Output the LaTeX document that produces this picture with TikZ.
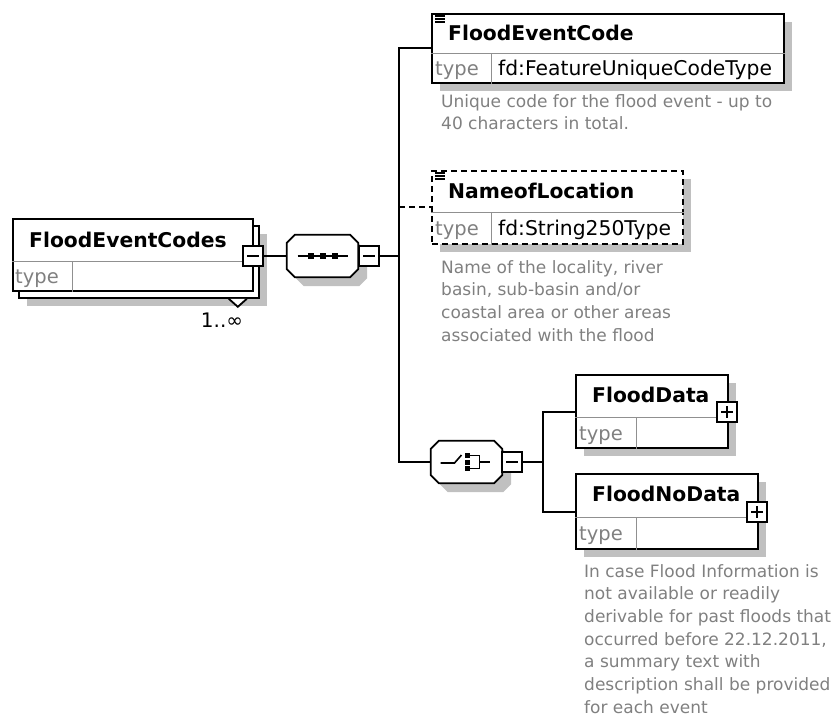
\documentclass[tikz,border=0pt]{standalone}
\usepackage{fontspec}
\setmainfont{DejaVu Sans}
\usetikzlibrary{calc,shadows}
\definecolor{shad}{HTML}{C0C0C0}
\definecolor{txtgray}{HTML}{808080}
\definecolor{sepgray}{HTML}{909090}
% octagon outline round a node #1, moved by (#2,#2)
\newcommand\octagonpath[2]{($(#1.north west)+(8+#2,#2)$) -- ($(#1.north east)+(-8+#2,#2)$) -- ($(#1.north east)+(#2,8+#2)$) -- ($(#1.south east)+(#2,-8+#2)$) -- ($(#1.south east)+(-8+#2,#2)$) -- ($(#1.south west)+(8+#2,#2)$) -- ($(#1.south west)+(#2,-8+#2)$) -- ($(#1.north west)+(#2,8+#2)$) -- cycle}
\tikzset{
  box/.style={draw=black, line width=1.8pt, fill=white, rectangle, inner sep=0pt, anchor=north west},
  elem/.style={box, general shadow={fill=shad, shadow xshift=8pt, shadow yshift=-8pt}},
  optdash/.style={dash pattern=on 6pt off 4pt},
  sepline/.style={draw=sepgray, line width=1pt},
  titletxt/.style={font=\fontsize{20.3}{24}\selectfont\bfseries, anchor=base west, inner sep=0pt},
  typelbl/.style={font=\fontsize{19.5}{22}\selectfont, text=txtgray, anchor=base west, inner sep=0pt},
  typeval/.style={font=\fontsize{20.3}{22}\selectfont, anchor=base west, inner sep=0pt},
  desctxt/.style={font=\fontsize{17}{22.7}\selectfont, text=txtgray, align=left, anchor=north west, inner sep=0pt},
  pmbox/.style={draw=black, line width=1.6pt, fill=white, rectangle, minimum size=20pt, inner sep=0pt},
  minusbox/.style={pmbox, path picture={\draw[line width=1.6pt] ([xshift=4pt]path picture bounding box.west) -- ([xshift=-4pt]path picture bounding box.east);}},
  plusbox/.style={pmbox, path picture={\draw[line width=1.6pt] ([xshift=4pt]path picture bounding box.west) -- ([xshift=-4pt]path picture bounding box.east); \draw[line width=1.6pt] ([yshift=-4pt]path picture bounding box.north) -- ([yshift=4pt]path picture bounding box.south);}},
  octframe/.style={rectangle, inner sep=0pt, minimum height=42pt},
  octline/.style={draw=black, line width=1.8pt, fill=white},
  conn/.style={draw=black, line width=1.8pt},
  icon/.style={draw=black, line width=1.1pt},
  sym/.style={draw=black, line width=1.6pt},
}
\begin{document}
\begin{tikzpicture}[x=1pt,y=-1pt]
\useasboundingbox (0,0) rectangle (832,720);

% ---------- FloodEventCodes (repeated element) ----------
\node[elem, minimum width=240pt, minimum height=72pt] (fecsback) at (18,225) {};
\draw[box, fill=white] ($(fecsback.south east)+(-31,0)$) -- ($(fecsback.south east)+(-22,8)$) -- ($(fecsback.south east)+(-13,0)$);
\node[box, minimum width=240pt, minimum height=72pt] (fecs) at (12,218) {};
\draw[sepline] ($(fecs.north west)+(0,43)$) -- ($(fecs.north east)+(0,43)$);
\draw[sepline] ($(fecs.north west)+(60,43)$) -- ($(fecs.south west)+(60,0)$);
\node[titletxt] (fecsT) at ($(fecs.north west)+(17,29)$) {FloodEventCodes};
\node[typelbl] (fecsL) at ($(fecs.north west)+(3,65)$) {type};
\node[minusbox] (fecsM) at (253,256) {};
\node[font=\fontsize{20}{22}\selectfont, inner sep=0pt] (card) at (222,320) {1..∞};

% ---------- sequence compositor ----------
\node[octframe, minimum width=71pt] (seq) at (322.5,256) {};
\fill[shad] \octagonpath{seq}{9};
\path[octline] \octagonpath{seq}{0};
\draw[sym] ($(seq.center)+(-25,0)$) -- ($(seq.center)+(25,0)$);
\foreach \dx in {-12,0,12} \fill ($(seq.center)+(\dx-3,-3)$) rectangle ++(6,6);
\node[minusbox] (seqM) at (369,256) {};

% ---------- FloodEventCode ----------
\node[elem, minimum width=352pt, minimum height=69pt] (fec) at (431,13) {};
\draw[sepline] ($(fec.north west)+(0,40)$) -- ($(fec.north east)+(0,40)$);
\draw[sepline] ($(fec.north west)+(60,40)$) -- ($(fec.south west)+(60,0)$);
\foreach \dy in {3,6,9} \draw[icon] ($(fec.north west)+(4,\dy)$) -- ++(10,0);
\node[titletxt] (fecT) at ($(fec.north west)+(17,27)$) {FloodEventCode};
\node[typelbl] (fecL) at ($(fec.north west)+(4,62)$) {type};
\node[typeval] (fecV) at ($(fec.north west)+(67,62)$) {fd:FeatureUniqueCodeType};
\node[desctxt] (fecD) at (441,94) {Unique code for the flood event - up to\\40 characters in total.};

% ---------- NameofLocation ----------
\node[elem, optdash, minimum width=251pt, minimum height=73pt] (nol) at (431,170) {};
\draw[sepline] ($(nol.north west)+(0,42)$) -- ($(nol.north east)+(0,42)$);
\draw[sepline] ($(nol.north west)+(60,42)$) -- ($(nol.south west)+(60,0)$);
\foreach \dy in {3,6,9} \draw[icon] ($(nol.north west)+(4,\dy)$) -- ++(10,0);
\node[titletxt] (nolT) at ($(nol.north west)+(17,28)$) {NameofLocation};
\node[typelbl] (nolL) at ($(nol.north west)+(4,65)$) {type};
\node[typeval] (nolV) at ($(nol.north west)+(67,65)$) {fd:String250Type};
\node[desctxt] (nolD) at (441,260) {Name of the locality, river\\basin, sub-basin and/or\\coastal area or other areas\\associated with the flood};

% ---------- choice compositor ----------
\node[octframe, minimum width=71pt] (choice) at (466.5,462) {};
\fill[shad] \octagonpath{choice}{9};
\path[octline] \octagonpath{choice}{0};
\draw[sym] ($(choice.center)+(-26,1)$) -- ($(choice.center)+(-12,1)$) -- ($(choice.center)+(-5,-7)$);
\foreach \dy in {-9,-2.5,4} \fill ($(choice.center)+(-2,\dy)$) rectangle ++(5,5);
\draw[sym] ($(choice.center)+(3,-6.5)$) -- ($(choice.center)+(13,-6.5)$) -- ($(choice.center)+(13,6.5)$) -- ($(choice.center)+(3,6.5)$);
\draw[sym] ($(choice.center)+(13,0)$) -- ($(choice.center)+(23,0)$);
\node[minusbox] (choiceM) at (512,462) {};

% ---------- FloodData ----------
\node[elem, minimum width=152pt, minimum height=73pt] (fd) at (575,374) {};
\draw[sepline] ($(fd.north west)+(0,43)$) -- ($(fd.north east)+(0,43)$);
\draw[sepline] ($(fd.north west)+(61,43)$) -- ($(fd.south west)+(61,0)$);
\node[titletxt] (fdT) at ($(fd.north west)+(17,28)$) {FloodData};
\node[typelbl] (fdL) at ($(fd.north west)+(4,66)$) {type};
\node[plusbox] (fdP) at (727,412) {};

% ---------- FloodNoData ----------
\node[elem, minimum width=182pt, minimum height=75pt] (fnd) at (575,473) {};
\draw[sepline] ($(fnd.north west)+(0,44)$) -- ($(fnd.north east)+(0,44)$);
\draw[sepline] ($(fnd.north west)+(61,44)$) -- ($(fnd.south west)+(61,0)$);
\node[titletxt] (fndT) at ($(fnd.north west)+(17,28)$) {FloodNoData};
\node[typelbl] (fndL) at ($(fnd.north west)+(4,67)$) {type};
\node[plusbox] (fndP) at (757,512) {};
\node[desctxt] (fndD) at (584,564) {In case Flood Information is\\not available or readily\\derivable for past floods that\\occurred before 22.12.2011,\\a summary text with\\description shall be provided\\for each event};

% ---------- connectors ----------
\coordinate (spine) at (399,256);
\coordinate (fecIn) at ($(fec.north west)+(0,35)$);
\coordinate (nolIn) at ($(nol.north west)+(0,37)$);
\coordinate (cspine) at (543,462);
\draw[conn] (fecsM.east) -- (seq.west);
\draw[conn] (seqM.east) -- (spine);
\draw[conn] (spine) |- (fecIn);
\draw[conn] (spine) |- (choice.west);
\draw[conn, optdash] (nolIn -| spine) -- (nolIn);
\draw[conn] (choiceM.east) -- (cspine);
\draw[conn] (cspine) |- (fdP.west -| fd.west);
\draw[conn] (cspine) |- (fndP.west -| fnd.west);
\end{tikzpicture}
\end{document}
